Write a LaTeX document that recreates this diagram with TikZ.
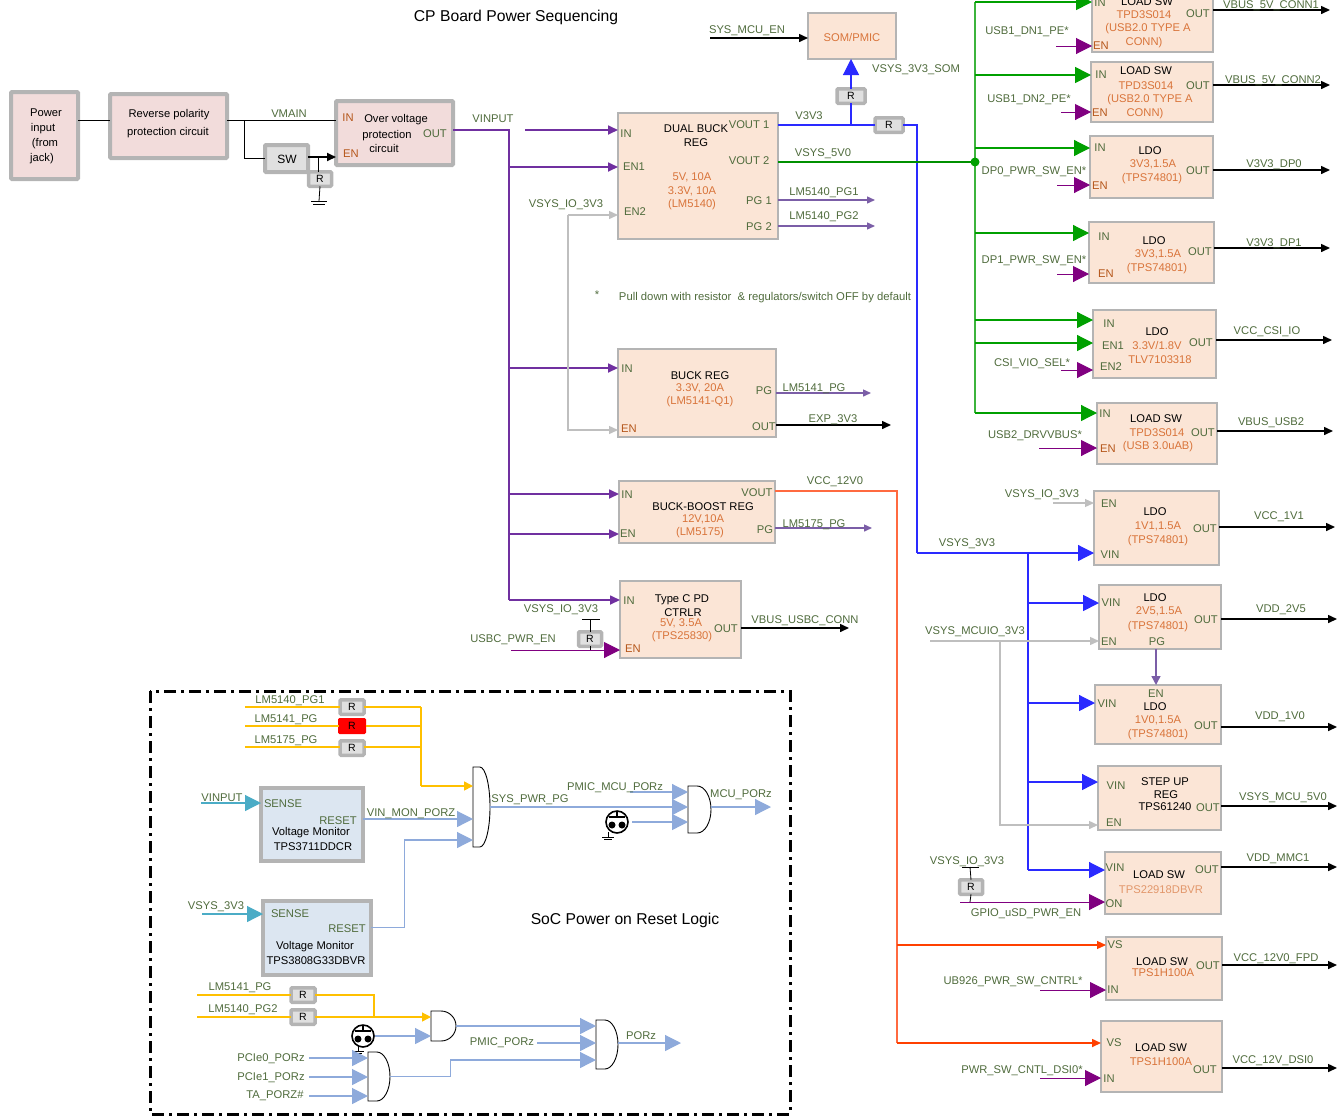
\documentclass[tikz,border=0pt]{standalone}
\usepackage{fontspec}
\setmainfont{Liberation Sans}
\usetikzlibrary{arrows.meta}
\definecolor{cpurple}{HTML}{7030A0}
\definecolor{cgreen}{HTML}{00A000}
\definecolor{cgreenl}{HTML}{3CB43C}
\definecolor{cgreend}{HTML}{009000}
\definecolor{cblue}{HTML}{2A2AFF}
\definecolor{cmag}{HTML}{800080}
\definecolor{clav}{HTML}{7B5EA7}
\definecolor{cpale}{HTML}{8EAADB}
\definecolor{cteal}{HTML}{4BACC6}
\definecolor{cgray}{HTML}{BFBFBF}
\definecolor{cyel}{HTML}{FFC000}
\definecolor{cred}{HTML}{FF4000}
\definecolor{credl}{HTML}{FF6A40}
\definecolor{clabel}{HTML}{4F6B3C}
\definecolor{cval}{HTML}{D9743A}
\definecolor{cport}{HTML}{B5561A}
\definecolor{cbox}{HTML}{FBE5D6}
\definecolor{cpink}{HTML}{F2DCDB}
\definecolor{cmon}{HTML}{DCE6F1}
\definecolor{cborder}{HTML}{B4B4B4}
\newcounter{cnt}
\tikzset{
  every node/.style={font=\fontsize{11.2}{13}\selectfont,inner sep=0pt,outer sep=0pt},
  tl/.style={text=clabel}, tk/.style={text=black}, tv/.style={text=cval}, tp/.style={text=cport},
  tvl/.style={text=cval!75},
  pinkbox/.style={draw=cborder,fill=cpink,line width=4pt,rounded corners=1pt},
  pbox/.style={draw=cborder,fill=cbox,line width=2.5pt},
  monbox/.style={draw=cborder,fill=cmon,line width=4pt},
  swbox/.style={draw=cborder,fill=black!12,line width=4pt,rounded corners=1pt},
  rbox/.style={draw=cborder,fill=black!12,line width=3.5pt,rounded corners=1pt},
  rredbox/.style={draw=red,fill=red,line width=1pt,rounded corners=1pt,minimum width=27pt,minimum height=15pt},
  wire/.style={draw=black,line width=0.8pt},
  parr/.style={draw=cpurple,line width=1.7pt,-{Triangle[length=10pt,width=9pt]}},
  garr/.style={draw=cgreen,line width=1.7pt,-{Triangle[length=16pt,width=16pt]}},
  garrt/.style={draw=cgreen,line width=1.2pt,-{Triangle[length=16pt,width=16pt]}},
  barr/.style={draw=cblue,line width=1.2pt,-{Triangle[length=16pt,width=16pt]}},
  marr/.style={draw=cmag,line width=1pt,-{Triangle[length=16pt,width=16pt]}},
  oarr/.style={draw=black,line width=1.5pt,-{Triangle[length=9pt,width=8pt]}},
  larr/.style={draw=clav,line width=1.4pt,-{Triangle[length=8pt,width=7pt]}},
  yarr/.style={draw=cyel,line width=1.2pt,-{Triangle[length=9pt,width=9pt]}},
  ywire/.style={draw=cyel,line width=1.2pt},
  sarr/.style={draw=cpale,line width=1.2pt,-{Triangle[length=16pt,width=16pt]}},
  swire/.style={draw=cpale,line width=1pt},
  tarr/.style={draw=cteal,line width=1.2pt,-{Triangle[length=16pt,width=16pt]}},
  grarr/.style={draw=cgray,line width=1.4pt,-{Triangle[length=9pt,width=8pt]}},
  rarr/.style={draw=cred,line width=1.1pt,-{Triangle[length=9pt,width=8pt]}},
  redwire/.style={draw=credl,line width=1.1pt},
}
\newcommand\tx[4]{\stepcounter{cnt}\node[#1] (t\thecnt) at ({#2},{#3+0.7}) {#4};}
\newcommand\Bx[6]{\node[#6,minimum width={(#4-#2)*1pt},minimum height={(#5-#3)*1pt}] (#1) at ({(#2+#4)/2},{(#3+#5)/2}) {};}
\newcommand\Rr[4][rbox]{\node[minimum width=24pt,minimum height=14.5pt,font=\fontsize{10.5}{12}\selectfont,#1] (#2) at (#3,#4) {R};}
\newcommand\inar[4]{\stepcounter{cnt}\coordinate (c\thecnt) at (#3,#4);\draw[#1] (c\thecnt) -- (#2.west |- c\thecnt);}
\newcommand\outar[3]{\stepcounter{cnt}\coordinate (c\thecnt) at (#2,#3);\draw[oarr] (#1.east |- c\thecnt) -- (c\thecnt);}
\newcommand\Gate[5]{%
  \pgfmathsetmacro\gm{#2+0.4*(#4-#2)}\pgfmathsetmacro\gc{\gm+0.55*(#4-\gm)}%
  \pgfmathsetmacro\gy{(#3+#5)/2}\pgfmathsetmacro\ga{\gy-0.55*(#5-#3)/2}\pgfmathsetmacro\gb{\gy+0.55*(#5-#3)/2}%
  \node[minimum width={(#4-#2)*1pt},minimum height={(#5-#3)*1pt}] (#1) at ({(#2+#4)/2},\gy) {};
  \draw[black,line width=0.9pt,fill=white] (#2,#3) -- (\gm,#3) .. controls (\gc,#3) and (#4,\ga) .. (#4,\gy) .. controls (#4,\gb) and (\gc,#5) .. (\gm,#5) -- (#2,#5) -- cycle;}
\begin{document}
\begin{tikzpicture}[x=1pt,y=-1pt]
\useasboundingbox (0,0) rectangle (1343,1117);
\tx{tk,font=\fontsize{15.7}{18}\selectfont}{516}{16.3}{CP Board Power Sequencing}
% boxes left
\Bx{pw}{11}{92}{78}{179}{pinkbox}
\Bx{rp}{110}{94}{227}{158}{pinkbox}
\Bx{sw}{265}{145}{308}{172}{swbox}
\Bx{ovp}{336}{101}{453}{165}{pinkbox}
\Rr[rbox,minimum width=23pt]{r0}{320}{179}
\coordinate (br) at (244,120);
\coordinate (swo) at (318,157);
\draw[wire] (pw.east |- br) -- (rp.west |- br);
\draw[wire] (rp.east |- br) -- (ovp.west |- br);
\draw[wire] (br) |- (sw.west);
\draw[black,line width=2pt,-{Triangle[length=9pt,width=8pt]}] (sw.east |- swo) -- (ovp.west |- swo);
\draw[wire] (swo) -- (swo |- r0.north);
\coordinate (gnd0) at (319,201);
\draw[wire] (r0.south) -- (gnd0);
\draw[wire] (311,201) -- (327,201) (313,204) -- (325,204);
\tx{tk}{46}{112}{Power}\tx{tk}{43}{128}{input}\tx{tk}{45}{143}{(from}\tx{tk}{42}{158}{jack)}
\tx{tk}{169}{114}{Reverse polarity}\tx{tk}{168}{132}{protection circuit}
\tx{tk,font=\fontsize{12}{14}\selectfont}{287}{159}{SW}
\tx{tl}{289}{113}{VMAIN}
\tx{tp}{348}{117}{IN}\tx{tk}{396}{119}{Over voltage}\tx{tk}{387}{135}{protection}\tx{tk}{384}{148}{circuit}
\tx{tl}{435}{133}{OUT}\tx{tp}{351}{153}{EN}
% middle boxes
\Bx{dual}{618}{113}{778}{239}{pbox}
\Bx{buck}{618}{349}{776}{437}{pbox}
\Bx{bb}{619}{481}{775}{543}{pbox}
\Bx{tc}{620}{581}{741}{658}{pbox}
\Bx{som}{808}{13}{896}{59}{pbox}
% purple bus
\coordinate (pb) at (509,130);
\coordinate (pb2) at (509,600);
\draw[draw=cpurple,line width=1.1pt] (ovp.east |- pb) -- (pb) -- (pb2);
\draw[parr] (525,130) -- (dual.west |- pb);
\foreach \yy/\bb in {167/dual,368/buck,494/bb,534/bb,600/tc}{\draw[parr] (pb |- 0,\yy) -- (\bb.west |- 0,\yy);}
% grey VSYS_IO
\coordinate (gb1) at (568,215);\coordinate (gb2) at (568,430);
\draw[grarr] (gb1) -- (dual.west |- gb1);
\draw[grarr] (gb1) -- (gb2) -- (buck.west |- gb2);
\tx{tl}{566}{204}{VSYS\_IO\_3V3}
% dual buck text
\tx{tk}{696}{128}{DUAL BUCK}\tx{tk}{696}{142}{REG}\tx{tl}{749}{124}{VOUT 1}\tx{tl}{749}{160}{VOUT 2}
\tx{tl}{626}{133}{IN}\tx{tl}{634}{166}{EN1}\tx{tl}{635}{211}{EN2}
\tx{tv}{692}{177}{5V, 10A}\tx{tv}{692}{191}{3.3V, 10A}\tx{tv}{692}{204}{(LM5140)}
\tx{tl}{759}{200}{PG 1}\tx{tl}{759}{226}{PG 2}
% V3V3
\Rr[rbox,minimum width=28pt]{r1}{851}{96}\Rr[rbox,minimum width=28pt]{r2}{889}{125}
\coordinate (v3) at (851,125);
\draw[draw=cblue,line width=1.2pt] (dual.east |- v3) -- (r2.west);
\draw[draw=cblue,line width=1.2pt] (v3) -- (r1.south);
\draw[draw=cblue,line width=1.2pt,-{Triangle[length=16pt,width=16pt]}] (r1.north) -- (som.south -| r1.north);
\coordinate (vs1) at (917,125);\coordinate (vs2) at (917,553);
\draw[draw=cblue,line width=1.2pt] (r2.east) -- (vs1) -- (vs2);
\tx{tl}{809}{115}{V3V3}\tx{tl}{916}{69}{VSYS\_3V3\_SOM}
\tx{tv}{852}{37}{SOM/PMIC}\tx{tl}{747}{30}{SYS\_MCU\_EN}
\inar{oarr}{som}{710}{38}
\tx{tl}{967}{543}{VSYS\_3V3}
% VSYS_5V0
\coordinate (gd) at (975,162);
\coordinate (gt) at (975,2);\coordinate (gu) at (975,413);
\draw[draw=cgreenl,line width=1.2pt] (gt) -- (gu);
\draw[draw=cgreend,line width=1.5pt] (dual.east |- gd) -- (gd);
\fill[cgreen] (gd) circle (4.5pt);
\tx{tl}{823}{153}{VSYS\_5V0}
% PG outs
\coordinate (e1) at (875,200);\coordinate (e2) at (875,226);\coordinate (e3) at (871,393);\coordinate (e4) at (891,425);\coordinate (e5) at (872,528);\coordinate (e6) at (849,628);
\draw[larr] (dual.east |- e1) -- (e1);\draw[larr] (dual.east |- e2) -- (e2);
\draw[larr] (buck.east |- e3) -- (e3);\draw[oarr] (buck.east |- e4) -- (e4);
\draw[larr] (bb.east |- e5) -- (e5);\draw[oarr] (tc.east |- e6) -- (e6);
\tx{tl}{824}{192}{LM5140\_PG1}\tx{tl}{824}{216}{LM5140\_PG2}
\tx{tl}{597}{294}{*}
\tx{tl,font=\fontsize{11.3}{13}\selectfont}{765}{297}{Pull down with resistor\ \ \& regulators/switch OFF by default}
% buck
\tx{tk}{700}{375}{BUCK REG}\tx{tv}{700}{388}{3.3V, 20A}\tx{tv}{700}{401}{(LM5141-Q1)}
\tx{tl}{627}{368}{IN}\tx{tp}{629}{428}{EN}\tx{tl}{764}{390}{PG}\tx{tl}{764}{426}{OUT}
\tx{tl}{814}{388}{LM5141\_PG}\tx{tl}{833}{419}{EXP\_3V3}
% buck-boost
\tx{tk}{703}{506}{BUCK-BOOST REG}\tx{tv}{703}{519}{12V,10A}\tx{tv}{700}{532}{(LM5175)}
\tx{tl}{757}{492}{VOUT}\tx{tl}{627}{494}{IN}\tx{tl}{628}{533}{EN}\tx{tl}{765}{529}{PG}
\tx{tl}{835}{481}{VCC\_12V0}\tx{tl}{814}{524}{LM5175\_PG}
% Type C
\tx{tk}{682}{599}{Type C PD}\tx{tk}{683}{612}{CTRLR}\tx{tv}{681}{623}{5V, 3.5A}\tx{tv}{682}{636}{(TPS25830)}
\tx{tl}{629}{600}{IN}\tx{tp}{633}{648}{EN}\tx{tl}{726}{628}{OUT}
\tx{tl}{805}{620}{VBUS\_USBC\_CONN}\tx{tl}{561}{609}{VSYS\_IO\_3V3}\tx{tl}{513}{639}{USBC\_PWR\_EN}
\tx{tl}{493}{118}{VINPUT}
\Rr[rbox,minimum width=23pt]{r3}{590}{639}
\coordinate (rt3) at (590,619);
\draw[wire] (rt3) -- (r3.north);\draw[wire] (582,619) -- (600,619);
\draw[wire] (r3.south) -- (590,650);
\inar{marr}{tc}{511}{650}
% right column boxes
\Bx{b1}{1092}{-4}{1213}{52}{pbox}
\Bx{b2}{1091}{62}{1213}{122}{pbox}
\Bx{b3}{1090}{136}{1213}{198}{pbox}
\Bx{b4}{1089}{222}{1214}{283}{pbox}
\Bx{b5}{1093}{310}{1216}{378}{pbox}
\Bx{b6}{1097}{403}{1217}{464}{pbox}
\Bx{b7}{1094}{491}{1219}{565}{pbox}
\Bx{b8}{1099}{585}{1221}{649}{pbox}
\Bx{b9}{1095}{685}{1221}{744}{pbox}
\Bx{b10}{1098}{766}{1221}{830}{pbox}
\Bx{b11}{1105}{852}{1221}{914}{pbox}
\Bx{b12}{1106}{937}{1222}{1000}{pbox}
\Bx{b13}{1101}{1021}{1222}{1092}{pbox}
% green branches
\inar{garr}{b1}{975}{2}\inar{garr}{b2}{975}{75}\inar{garrt}{b3}{975}{148}\inar{garrt}{b4}{975}{233}
\inar{garrt}{b5}{975}{320}\inar{garrt}{b5}{975}{343}\inar{garrt}{b6}{975}{413}
% purple enables
\inar{marr}{b1}{1056}{46}\inar{marr}{b2}{1061}{112}\inar{marr}{b3}{1057}{185}\inar{marr}{b4}{1057}{274}
\inar{marr}{b5}{1061}{370}\inar{marr}{b6}{1039}{448}\inar{marr}{b11}{960}{902}\inar{marr}{b12}{1040}{990}\inar{marr}{b13}{1040}{1078}
% outs
\outar{b1}{1330}{10}\outar{b2}{1330}{85}\outar{b3}{1330}{170}\outar{b4}{1330}{248}\outar{b5}{1332}{340}\outar{b6}{1333}{431}
\outar{b7}{1335}{527}\outar{b8}{1337}{619}\outar{b9}{1337}{727}\outar{b10}{1337}{806}\outar{b11}{1337}{867}\outar{b12}{1337}{965}\outar{b13}{1337}{1068}
% blue
\coordinate (bb1) at (1028,553);\coordinate (bb2) at (1028,870);
\draw[barr] (vs2) -- (b7.west |- vs2);
\draw[draw=cblue,line width=1.2pt] (bb1) -- (bb2);
\draw[barr,line width=1.7pt] (bb1 |- 0,603) -- (b8.west |- 0,603);
\foreach \yy/\bb in {703/b9,782/b10,870/b11}{\draw[barr] (bb1 |- 0,\yy) -- (\bb.west |- 0,\yy);}
% grey right
\inar{grarr,line width=1.2pt}{b7}{1053}{503}
\coordinate (mc) at (930,641);\coordinate (mc1) at (1000,641);\coordinate (mc2) at (1000,825);
\draw[grarr] (mc) -- (b8.west |- mc);
\draw[grarr] (mc1) -- (mc2) -- (b10.west |- mc2);
\draw[draw=clav,line width=1.4pt,-{Triangle[length=9pt,width=9pt]}] (b8.south -| 1156,0) -- (b9.north -| 1156,0);
% red
\coordinate (rd) at (897,491);\coordinate (rd2) at (897,1043);
\draw[redwire] (bb.east |- rd) -- (rd) -- (rd2);
\draw[rarr] (rd |- 0,945) -- (b12.west |- 0,945);
\draw[rarr,line width=1.6pt] (rd2) -- (b13.west |- rd2);
% R for uSD
\Rr[rbox,minimum width=23pt]{r4}{971}{887}
\coordinate (rt4) at (970,867);
\draw[wire] (rt4) -- (r4.north);\draw[wire] (962,867) -- (979,867);
\draw[wire] (r4.south) -- (970,902);
% right text
\tx{tk}{1147}{1}{LOAD SW}\tx{tv}{1144}{14}{TPD3S014}\tx{tv}{1148}{28}{(USB2.0 TYPE A}\tx{tv}{1144}{42}{CONN)}
\tx{tl}{1100}{2}{IN}\tx{tp}{1101}{45}{EN}\tx{tl}{1198}{13}{OUT}\tx{tl}{1027}{31}{USB1\_DN1\_PE*}\tx{tl}{1271}{5}{VBUS\_5V\_CONN1}
\tx{tk}{1146}{70}{LOAD SW}\tx{tv}{1146}{85}{TPD3S014}\tx{tv}{1150}{99}{(USB2.0 TYPE A}\tx{tv}{1145}{113}{CONN)}
\tx{tl}{1101}{74}{IN}\tx{tp}{1100}{112}{EN}\tx{tl}{1198}{85}{OUT}\tx{tl}{1029}{99}{USB1\_DN2\_PE*}\tx{tl}{1273}{80}{VBUS\_5V\_CONN2}
\tx{tk}{1150}{150}{LDO}\tx{tv}{1153}{164}{3V3,1.5A}\tx{tv}{1152}{178}{(TPS74801)}
\tx{tl}{1100}{147}{IN}\tx{tp}{1100}{185}{EN}\tx{tl}{1198}{170}{OUT}\tx{tl}{1034}{171}{DP0\_PWR\_SW\_EN*}\tx{tl}{1274}{164}{V3V3\_DP0}
\tx{tk}{1154}{240}{LDO}\tx{tv}{1158}{254}{3V3,1.5A}\tx{tv}{1157}{268}{(TPS74801)}
\tx{tl}{1104}{236}{IN}\tx{tp}{1106}{273}{EN}\tx{tl}{1200}{251}{OUT}\tx{tl}{1034}{260}{DP1\_PWR\_SW\_EN*}\tx{tl}{1274}{243}{V3V3\_DP1}
\tx{tk}{1157}{331}{LDO}\tx{tv}{1157}{345}{3.3V/1.8V}\tx{tv}{1160}{359}{TLV7103318}
\tx{tl}{1109}{323}{IN}\tx{tl}{1113}{345}{EN1}\tx{tl}{1111}{366}{EN2}\tx{tl}{1201}{342}{OUT}\tx{tl}{1032}{363}{CSI\_VIO\_SEL*}\tx{tl}{1267}{331}{VCC\_CSI\_IO}
\tx{tk}{1156}{418}{LOAD SW}\tx{tv}{1157}{432}{TPD3S014}\tx{tv}{1158}{446}{(USB 3.0uAB)}
\tx{tl}{1105}{413}{IN}\tx{tp}{1108}{448}{EN}\tx{tl}{1203}{432}{OUT}\tx{tl}{1035}{435}{USB2\_DRVVBUS*}\tx{tl}{1271}{422}{VBUS\_USB2}
\tx{tk}{1155}{511}{LDO}\tx{tv}{1158}{526}{1V1,1.5A}\tx{tv}{1158}{540}{(TPS74801)}
\tx{tl}{1109}{503}{EN}\tx{tl}{1110}{554}{VIN}\tx{tl}{1205}{528}{OUT}\tx{tl}{1042}{494}{VSYS\_IO\_3V3}\tx{tl}{1279}{516}{VCC\_1V1}
\tx{tk}{1155}{597}{LDO}\tx{tv}{1159}{611}{2V5,1.5A}\tx{tv}{1158}{626}{(TPS74801)}
\tx{tl}{1111}{602}{VIN}\tx{tl}{1109}{641}{EN}\tx{tl}{1157}{641}{PG}\tx{tl}{1206}{619}{OUT}\tx{tl}{1281}{609}{VDD\_2V5}\tx{tl}{975}{631}{VSYS\_MCUIO\_3V3}
\tx{tk}{1155}{706}{LDO}\tx{tv}{1158}{720}{1V0,1.5A}\tx{tv}{1158}{734}{(TPS74801)}
\tx{tl}{1107}{703}{VIN}\tx{tl}{1156}{693}{EN}\tx{tl}{1206}{725}{OUT}\tx{tl}{1280}{716}{VDD\_1V0}
\tx{tk}{1165}{781}{STEP UP}\tx{tk}{1166}{794}{REG}\tx{tk}{1165}{806}{TPS61240}
\tx{tl}{1116}{785}{VIN}\tx{tl}{1114}{822}{EN}\tx{tl}{1208}{807}{OUT}\tx{tl}{1283}{797}{VSYS\_MCU\_5V0}
\tx{tk}{1159}{874}{LOAD SW}\tx{tvl}{1161}{889}{TPS22918DBVR}
\tx{tl}{1115}{867}{VIN}\tx{tl}{1114}{903}{ON}\tx{tl}{1207}{869}{OUT}\tx{tl}{1278}{858}{VDD\_MMC1}\tx{tl}{967}{861}{VSYS\_IO\_3V3}\tx{tl}{1026}{913}{GPIO\_uSD\_PWR\_EN}
\tx{tk}{1162}{961}{LOAD SW}\tx{tv}{1163}{972}{TPS1H100A}
\tx{tl}{1115}{944}{VS}\tx{tl}{1113}{989}{IN}\tx{tl}{1208}{965}{OUT}\tx{tl}{1276}{958}{VCC\_12V0\_FPD}\tx{tl}{1013}{981}{UB926\_PWR\_SW\_CNTRL*}
\tx{tk}{1161}{1047}{LOAD SW}\tx{tv}{1161}{1061}{TPS1H100A}
\tx{tl}{1114}{1042}{VS}\tx{tl}{1109}{1078}{IN}\tx{tl}{1205}{1069}{OUT}\tx{tl}{1273}{1060}{VCC\_12V\_DSI0}\tx{tl}{1022}{1070}{PWR\_SW\_CNTL\_DSI0*}
% SoC region
\draw[black,line width=3pt,dash pattern=on 12pt off 5pt on 3pt off 5pt] (150,691) rectangle (790,1114);
\tx{tk,font=\fontsize{15.7}{18}\selectfont}{625}{919.3}{SoC Power on Reset Logic}
\coordinate (y1) at (245,707);\coordinate (y2) at (245,726);\coordinate (y3) at (245,747);
\coordinate (yb) at (421,707);\coordinate (yb2) at (421,786);
\Rr{q1}{352}{707}\Rr[rredbox]{q2}{352}{726}\Rr{q3}{352}{748}
\draw[ywire] (y1) -- (q1.west);\draw[ywire] (y2) -- (q2.west);\draw[ywire] (y3) -- (q3.west |- y3);
\draw[ywire] (q1.east) -- (yb);\draw[ywire] (q2.east) -- (yb |- q2.east);\draw[ywire] (q3.east |- y3) -- (yb |- y3);
\draw[ywire] (yb) -- (yb2);
\tx{tl}{290}{700}{LM5140\_PG1}\tx{tl}{286}{719}{LM5141\_PG}\tx{tl}{286}{740}{LM5175\_PG}
\Bx{m1}{261}{788}{363}{861}{monbox}
\Bx{m2}{263}{901}{371}{975}{monbox}
\inar{tarr}{m1}{201}{803}\inar{tarr}{m2}{202}{914}
\tx{tl}{222}{797}{VINPUT}\tx{tl}{283}{803}{SENSE}\tx{tl}{338}{820}{RESET}\tx{tk}{311}{832}{Voltage Monitor}\tx{tk}{313}{846}{TPS3711DDCR}
\tx{tl}{216}{906}{VSYS\_3V3}\tx{tl}{290}{913}{SENSE}\tx{tl}{347}{928}{RESET}\tx{tk}{315}{946}{Voltage Monitor}\tx{tk}{316}{960}{TPS3808G33DBVR}
\Gate{g1}{473}{767}{490}{847}
\Gate{g2}{688}{786}{711}{833}
\Gate{g3}{431}{1011}{456}{1041}
\Gate{g4}{368}{1052}{390}{1101}
\Gate{g5}{596}{1020}{618}{1069}
\draw[yarr,line width=1.6pt] (yb2) -- (g1.west |- yb2);
\coordinate (a1) at (363,819);\coordinate (a2) at (404,927);\coordinate (a3) at (404,840);
\draw[sarr] (m1.east |- a1) -- (g1.west |- a1);
\draw[swire] (m2.east |- a2) -- (a2) -- (a3);
\draw[sarr] (a3) -- (g1.west |- a3);
\coordinate (a4) at (630,792);\coordinate (a5) at (632,822);\coordinate (a6) at (771,807);
\draw[sarr] (a4) -- (g2.west |- a4);
\draw[sarr] (g1.east |- a6) -- (g2.west |- a6);
\draw[sarr] (a5) -- (g2.west |- a5);
\draw[sarr] (g2.east |- a6) -- (a6);
\tx{tl}{530}{799}{SYS\_PWR\_PG}\tx{tl}{411}{813}{VIN\_MON\_PORZ}\tx{tl}{615}{787}{PMIC\_MCU\_PORz}\tx{tl}{741}{794}{MCU\_PORz}
\draw[black,line width=1.6pt] (617,822) circle (11pt);
\draw[black,line width=1.4pt] (609,817) -- (625,817) (617,811) -- (617,817);
\fill (612,825) circle (3.5pt) (622,825) circle (3.5pt);
\draw[black,line width=0.8pt] (608,832) -- (608,837) (602,837) -- (614,837) (604,839.5) -- (612,839.5);
% lower logic
\Rr{q4}{303}{995}\Rr{q5}{303}{1017}
\coordinate (y4) at (197,995);\coordinate (y5) at (197,1017);\coordinate (y6) at (374,995);
\draw[ywire] (y4) -- (q4.west);\draw[ywire] (y5) -- (q5.west);
\draw[ywire] (q4.east) -- (y6) -- (y6 |- y5);
\draw[yarr] (q5.east) -- (g3.west |- q5.east);
\tx{tl}{240}{987}{LM5141\_PG}\tx{tl}{243}{1009}{LM5140\_PG2}
\draw[black,line width=1.6pt] (363,1036) circle (11pt);
\draw[black,line width=1.4pt] (355,1031) -- (371,1031) (363,1025) -- (363,1031);
\fill (358,1039) circle (3.5pt) (368,1039) circle (3.5pt);
\draw[black,line width=0.8pt] (358,1046) -- (358,1051) (352,1051) -- (364,1051) (354,1053.5) -- (362,1053.5);
\coordinate (h1) at (375,1036);
\draw[sarr] (h1) -- (g3.west |- h1);
\coordinate (k1) at (309,1058);\coordinate (k2) at (309,1077);\coordinate (k3) at (309,1096);
\draw[sarr] (k1) -- (g4.west |- k1);\draw[sarr] (k2) -- (g4.west |- k2);\draw[sarr] (k3) -- (g4.west |- k3);
\tx{tl}{271}{1058}{PCIe0\_PORz}\tx{tl}{271}{1077}{PCIe1\_PORz}\tx{tl}{275}{1095}{TA\_PORZ\#}
\coordinate (j1) at (456,1026);\coordinate (j2) at (537,1043);\coordinate (j3) at (450,1076);\coordinate (j4) at (450,1060);\coordinate (j5) at (681,1043);
\draw[sarr] (j1) -- (g5.west |- j1);
\draw[sarr] (j2) -- (g5.west |- j2);
\draw[swire] (g4.east |- j3) -- (j3) -- (j4);
\draw[sarr] (j4) -- (g5.west |- j4);
\draw[sarr] (g5.east |- j5) -- (j5);
\tx{tl}{502}{1042}{PMIC\_PORz}\tx{tl}{641}{1035}{PORz}
\end{tikzpicture}
\end{document}
